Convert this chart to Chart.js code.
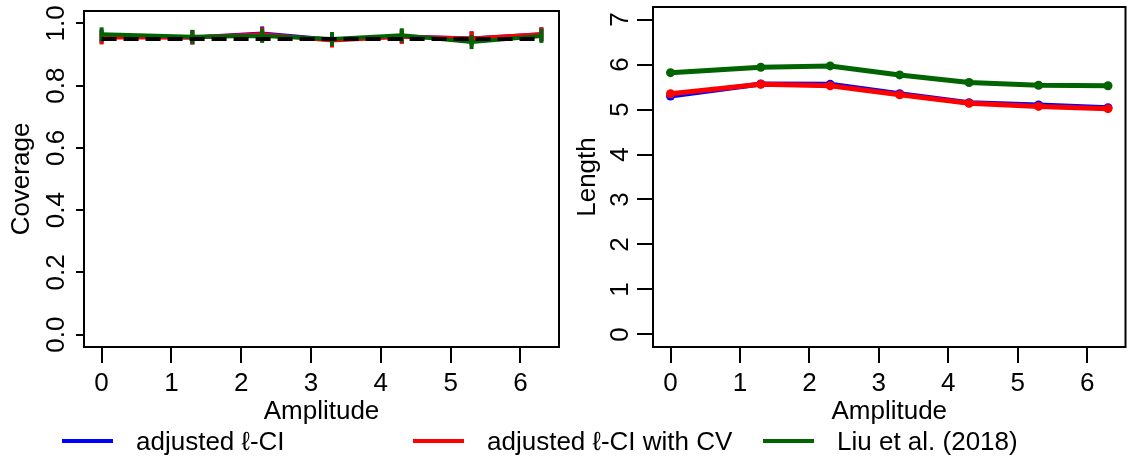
<!DOCTYPE html>
<html>
<head>
<meta charset="utf-8">
<script src="https://cdn.jsdelivr.net/npm/chart.js@4.4.1/dist/chart.umd.min.js"></script>
<style>
  body { margin: 0; background: #fff; width: 1130px; height: 459px; position: relative; overflow: hidden;
         font-family: "Liberation Sans", Arial, sans-serif; }
  #coverage-wrap { position: absolute; left: 0; top: 0; width: 570px; height: 430px; }
  #length-wrap { position: absolute; left: 565px; top: 0; width: 565px; height: 430px; }
  .legend-item { position: absolute; top: 426px; height: 30px; font-size: 26px; line-height: 30px;
                 color: #000; white-space: nowrap; }
  .legend-line { position: absolute; top: 13px; height: 4px; width: 51px; }
</style>
</head>
<body>
<div id="coverage-wrap"><canvas id="coverage" width="570" height="430"></canvas></div>
<div id="length-wrap"><canvas id="length" width="565" height="430"></canvas></div>
<div id="legend"></div>

<script>
// data
const amplitudes = [0, 1.3, 2.3, 3.3, 4.3, 5.3, 6.3];
const amplitudeTicks = [0, 1, 2, 3, 4, 5, 6];

const coverageAdjusted = [0.958, 0.955, 0.968, 0.948, 0.958, 0.952, 0.965];
const coverageAdjustedCV = [0.955, 0.955, 0.965, 0.945, 0.957, 0.952, 0.965];
const coverageLiu = [0.965, 0.957, 0.96, 0.95, 0.962, 0.94, 0.96];
const nominalLevel = 0.95;
const coverageTicks = [0, 0.2, 0.4, 0.6, 0.8, 1];

const lengthAdjusted = [5.3, 5.57, 5.56, 5.35, 5.15, 5.1, 5.04];
const lengthAdjustedCV = [5.35, 5.56, 5.53, 5.33, 5.14, 5.07, 5.02];
const lengthLiu = [5.82, 5.94, 5.97, 5.77, 5.6, 5.54, 5.53];
const lengthTicks = [0, 1, 2, 3, 4, 5, 6, 7];

const seriesNames = ["adjusted \u2113-CI", "adjusted \u2113-CI with CV", "Liu et al. (2018)"];
const seriesColors = ["#0000ff", "#ff0000", "#006400"];

const FONT = "'Liberation Sans', Arial, sans-serif";
const FONT_SIZE = 26;

const toPoints = (ys) => ys.map((y, i) => ({ x: amplitudes[i], y }));

// box around plot region + y tick labels turned like R does
const panelFrame = {
  id: "panelFrame",
  afterDraw(chart, args, opts) {
    const { ctx, chartArea: a } = chart;
    const yScale = chart.scales.y;
    ctx.save();
    ctx.strokeStyle = "#000";
    ctx.lineWidth = 2;
    ctx.strokeRect(a.left, a.top, a.right - a.left, a.bottom - a.top);
    ctx.font = FONT_SIZE + "px " + FONT;
    ctx.fillStyle = "#000";
    ctx.textAlign = "center";
    ctx.textBaseline = "middle";
    yScale.ticks.forEach((t) => {
      const y = yScale.getPixelForValue(t.value);
      ctx.save();
      ctx.translate(opts.labelX, y);
      ctx.rotate(-Math.PI / 2);
      ctx.fillText(opts.format(t.value), 0, 0);
      ctx.restore();
    });
    ctx.restore();
  },
};

const makeScales = (cfg) => ({
  x: {
    type: "linear",
    min: -0.252,
    max: 6.552,
    afterBuildTicks: (s) => {
      s.ticks = amplitudeTicks.map((v) => ({ value: v }));
    },
    afterFit: (s) => {
      s.height = 83;
    },
    border: { display: false },
    grid: { drawOnChartArea: false, tickLength: 16, color: "#000", lineWidth: 2 },
    ticks: { color: "#000", font: { size: FONT_SIZE, family: FONT }, padding: 5, maxRotation: 0 },
    title: { display: true, text: "Amplitude", color: "#000", font: { size: FONT_SIZE, family: FONT }, padding: { bottom: 3 } },
  },
  y: {
    type: "linear",
    min: cfg.min,
    max: cfg.max,
    afterBuildTicks: (s) => {
      s.ticks = cfg.ticks.map((v) => ({ value: v }));
    },
    afterFit: (s) => {
      s.width = cfg.width;
    },
    border: { display: false },
    grid: { drawOnChartArea: false, tickLength: cfg.tickLength, color: "#000", lineWidth: 2 },
    ticks: { display: false },
    title: { display: true, text: cfg.title, color: "#000", font: { size: FONT_SIZE, family: FONT }, padding: { top: cfg.titlePad } },
  },
});

const baseOptions = (scales, frame, rightPad) => ({
  responsive: false,
  animation: false,
  devicePixelRatio: 1,
  layout: { padding: { top: 7, right: rightPad, left: 0, bottom: 0 } },
  plugins: { legend: { display: false }, tooltip: { enabled: false }, panelFrame: frame },
  scales,
});

// coverage panel
const setupCoverageChart = () => {
  const spike = (name, ys, color, order) => ({
    label: name,
    data: toPoints(ys),
    borderColor: color,
    backgroundColor: color,
    borderWidth: 4,
    pointStyle: "line",
    pointRotation: 90,
    pointRadius: 7,
    pointBorderWidth: 4,
    tension: 0,
    order,
  });
  new Chart(document.getElementById("coverage"), {
    type: "line",
    data: {
      datasets: [
        {
          label: "nominal",
          data: [{ x: amplitudes[0], y: nominalLevel }, { x: amplitudes[amplitudes.length - 1], y: nominalLevel }],
          borderColor: "#000",
          borderWidth: 4,
          borderDash: [15, 7],
          pointRadius: 0,
          order: 0,
        },
        spike(seriesNames[0], coverageAdjusted, seriesColors[0], 3),
        spike(seriesNames[1], coverageAdjustedCV, seriesColors[1], 2),
        spike(seriesNames[2], coverageLiu, seriesColors[2], 1),
      ],
    },
    options: baseOptions(
      makeScales({ min: -0.04, max: 1.04, ticks: coverageTicks, width: 84, tickLength: 8, title: "Coverage", titlePad: 6 }),
      { labelX: 57, format: (v) => v.toFixed(1) },
      8
    ),
    plugins: [panelFrame],
  });
};

// length panel
const setupLengthChart = () => {
  const dotted = (name, ys, color, order) => ({
    label: name,
    data: toPoints(ys),
    borderColor: color,
    backgroundColor: color,
    borderWidth: 5,
    pointRadius: 4.5,
    pointBorderWidth: 0,
    tension: 0,
    order,
  });
  new Chart(document.getElementById("length"), {
    type: "line",
    data: {
      datasets: [
        dotted(seriesNames[0], lengthAdjusted, seriesColors[0], 3),
        dotted(seriesNames[1], lengthAdjustedCV, seriesColors[1], 2),
        dotted(seriesNames[2], lengthLiu, seriesColors[2], 1),
      ],
    },
    options: baseOptions(
      makeScales({ min: -0.28, max: 7.28, ticks: lengthTicks, width: 88, tickLength: 16, title: "Length", titlePad: 7 }),
      { labelX: 56, format: (v) => String(v) },
      2
    ),
    plugins: [panelFrame],
  });
};

// shared legend under both panels
const buildLegend = () => {
  const lineX = [62, 413, 763];
  const legend = document.getElementById("legend");
  seriesNames.forEach((name, i) => {
    const item = document.createElement("div");
    item.className = "legend-item";
    item.style.left = lineX[i] + "px";
    item.innerHTML = '<span class="legend-line" style="left:0;background:' + seriesColors[i] + '"></span>' +
      '<span style="position:absolute;left:74px;">' + name + "</span>";
    legend.appendChild(item);
  });
};

setupCoverageChart();
setupLengthChart();
buildLegend();
</script>
</body>
</html>
